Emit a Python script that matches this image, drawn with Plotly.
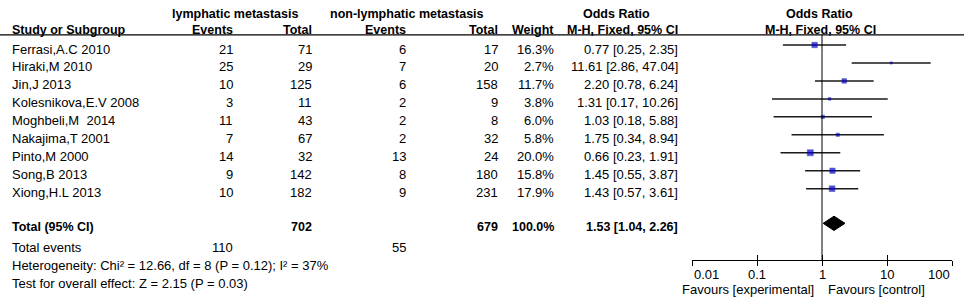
import numpy as np
import plotly.graph_objects as go

# ---------------- data ----------------
studies = ["Ferrasi,A.C 2010", "Hiraki,M 2010", "Jin,J 2013", "Kolesnikova,E.V 2008",
           "Moghbeli,M  2014", "Nakajima,T 2001", "Pinto,M 2000", "Song,B 2013", "Xiong,H.L 2013"]
events_lymph = [21, 25, 10, 3, 11, 7, 14, 9, 10]
total_lymph = [71, 29, 125, 11, 43, 67, 32, 142, 182]
events_non = [6, 7, 6, 2, 2, 2, 13, 8, 9]
total_non = [17, 20, 158, 9, 8, 32, 24, 180, 231]
weights = [16.3, 2.7, 11.7, 3.8, 6.0, 5.8, 20.0, 15.8, 17.9]
odds = [0.77, 11.61, 2.20, 1.31, 1.03, 1.75, 0.66, 1.45, 1.43]
ci_low = [0.25, 2.86, 0.78, 0.17, 0.18, 0.34, 0.23, 0.55, 0.57]
ci_high = [2.35, 47.04, 6.24, 10.26, 5.88, 8.94, 1.91, 3.87, 3.61]

total_n_lymph = 702
total_n_non = 679
total_weight = 100.0
total_events_lymph = 110
total_events_non = 55
pooled_or = 1.53
pooled_low = 1.04
pooled_high = 2.26
heterogeneity = "Heterogeneity: Chi\u00b2 = 12.66, df = 8 (P = 0.12); I\u00b2 = 37%"
overall_test = "Test for overall effect: Z = 2.15 (P = 0.03)"

tick_vals = [0.01, 0.1, 1, 10, 100]
tick_text = ["0.01", "0.1", "1", "10", "100"]

# ---------------- layout helpers ----------------
W, H = 964, 300
FONT = "Liberation Sans, Arial, sans-serif"
FS = 13
FSB = 12.5
ROW0_PX, ROW_PX = 45, 17.96  # pixel centre of first row and row pitch

rows = list(range(len(studies)))
total_row = 9.93
events_row = 11.06
het_row = 12.05
test_row = 13.05
head1_row = -1.71
head2_row = -0.82
line_row = -0.56
axis_px = 260

y_top = -ROW0_PX / ROW_PX
y_bot = (H - ROW0_PX) / ROW_PX

fig = go.Figure()

anns = []


def px(x):
    return x / W


def add_text(text, x, y, anchor="right", bold=False, shift=-4):
    anns.append(dict(
        text=f"<b>{text}</b>" if bold else text,
        x=px(x), xref="paper", y=y, yref="y",
        xanchor=anchor, yanchor="middle", showarrow=False, yshift=shift,
        font=dict(family=FONT, size=FSB if bold else FS, color="#000000"),
    ))


C_EV1, C_TOT1, C_EV2, C_TOT2, C_W, C_OR = 235, 313.5, 408, 499.5, 555.5, 679.5

# headers
add_text("lymphatic metastasis", 234.7, head1_row, "center", True, 0)
add_text("non-lymphatic metastasis", 406.5, head1_row, "center", True, 0)
add_text("Odds Ratio", 616.7, head1_row, "center", True, 0)
add_text("Odds Ratio", 819.5, head1_row, "center", True, 0)
add_text("Study or Subgroup", 10, head2_row, "left", True, 0)
add_text("Events", C_EV1, head2_row, "right", True, 0)
add_text("Total", C_TOT1, head2_row, "right", True, 0)
add_text("Events", C_EV2, head2_row, "right", True, 0)
add_text("Total", C_TOT2, head2_row, "right", True, 0)
add_text("Weight", C_W, head2_row, "right", True, 0)
add_text("M-H, Fixed, 95% CI", C_OR, head2_row, "right", True, 0)
add_text("M-H, Fixed, 95% CI", 820.5, head2_row, "center", True, 0)

# study rows
for i, r in enumerate(rows):
    add_text(studies[i], 10, r, "left")
    add_text(str(events_lymph[i]), C_EV1, r)
    add_text(str(total_lymph[i]), C_TOT1, r)
    add_text(str(events_non[i]), C_EV2, r)
    add_text(str(total_non[i]), C_TOT2, r)
    add_text(f"{weights[i]:.1f}%", C_W, r)
    add_text(f"{odds[i]:.2f} [{ci_low[i]:.2f}, {ci_high[i]:.2f}]", C_OR, r)

# total rows
add_text("Total (95% CI)", 10, total_row, "left", True)
add_text(str(total_n_lymph), C_TOT1, total_row, "right", True)
add_text(str(total_n_non), C_TOT2, total_row, "right", True)
add_text(f"{total_weight:.1f}%", C_W, total_row, "right", True)
add_text(f"{pooled_or:.2f} [{pooled_low:.2f}, {pooled_high:.2f}]", C_OR, total_row, "right", True)
add_text("Total events", 10, events_row, "left")
add_text(str(total_events_lymph), C_EV1, events_row)
add_text(str(total_events_non), C_EV2, events_row)
add_text(heterogeneity, 10, het_row, "left")
add_text(overall_test, 10, test_row, "left")

# favours labels
fav_y = 1 - 289.5 / H
anns.append(dict(text="Favours [experimental]", x=px(816), xref="paper", y=fav_y, yref="paper",
                 xanchor="right", yanchor="middle", showarrow=False,
                 font=dict(family=FONT, size=FS, color="#000000")))
anns.append(dict(text="Favours [control]", x=px(826), xref="paper", y=fav_y, yref="paper",
                 xanchor="left", yanchor="middle", showarrow=False,
                 font=dict(family=FONT, size=FS, color="#000000")))

# axis tick labels: edge labels sit inside the axis span
tick_y = 1 - 274.5 / H
for k, (tv, tt) in enumerate(zip(tick_vals, tick_text)):
    anchor = "left" if k == 0 else ("right" if k == len(tick_vals) - 1 else "center")
    anns.append(dict(text=tt, x=np.log10(tv), xref="x", y=tick_y, yref="paper",
                     xanchor=anchor, yanchor="middle", showarrow=False,
                     font=dict(family=FONT, size=FS, color="#000000")))

# ---------------- marks ----------------
odds_a = np.array(odds)
fig.add_trace(go.Scatter(
    x=odds, y=rows, mode="markers",
    marker=dict(symbol="square", size=[1.35 * np.sqrt(w) for w in weights], color="#0000d4",
                line=dict(width=0.5, color="#000080")),
    error_x=dict(type="data", symmetric=False,
                 array=list(np.array(ci_high) - odds_a),
                 arrayminus=list(odds_a - np.array(ci_low)),
                 color="#1a1a1a", thickness=1.5, width=0),
    hoverinfo="skip", showlegend=False,
))

# pooled diamond
dh = 0.4
fig.add_trace(go.Scatter(
    x=[pooled_low, pooled_or, pooled_high, pooled_or, pooled_low],
    y=[total_row, total_row - dh, total_row, total_row + dh, total_row],
    mode="lines", fill="toself", fillcolor="#000000", line=dict(color="#000000", width=1),
    hoverinfo="skip", showlegend=False,
))

shapes = [
    dict(type="line", xref="paper", yref="y", x0=0, x1=1, y0=line_row, y1=line_row,
         line=dict(color="#000000", width=1.2)),
    dict(type="line", xref="x", yref="y", x0=1, x1=1, y0=line_row,
         y1=(axis_px - ROW0_PX) / ROW_PX, line=dict(color="#000000", width=1)),
]

dom = [692 / W, 952 / W]
axis_pos = 1 - axis_px / H
fig.update_layout(
    width=W, height=H, autosize=False,
    margin=dict(l=0, r=0, t=0, b=0, pad=0, autoexpand=False),
    paper_bgcolor="white", plot_bgcolor="white",
    annotations=anns, shapes=shapes,
    xaxis=dict(type="log", range=[-2, 2], domain=dom, anchor="free", position=axis_pos,
               showline=True, linecolor="#000000", linewidth=1.2, ticks="outside", ticklen=5,
               tickwidth=1.2, tickcolor="#000000", tickvals=tick_vals,
               showticklabels=False, showgrid=False, zeroline=False),
    xaxis2=dict(type="log", range=[-2, 2], domain=dom, anchor="free", position=axis_pos,
                overlaying="x", ticks="inside", ticklen=5, tickwidth=1.2, tickcolor="#000000",
                tickvals=tick_vals, showticklabels=False, showgrid=False, zeroline=False,
                showline=False),
    yaxis=dict(range=[y_bot, y_top], domain=[0, 1], visible=False),
)
# invisible trace to activate xaxis2
fig.add_trace(go.Scatter(x=[1], y=[0], xaxis="x2", mode="markers", marker=dict(opacity=0),
                         hoverinfo="skip", showlegend=False))

fig.write_html("out.html", config={"displayModeBar": False, "responsive": False},
               post_script="document.body.style.margin='0';document.body.style.overflow='hidden';")
